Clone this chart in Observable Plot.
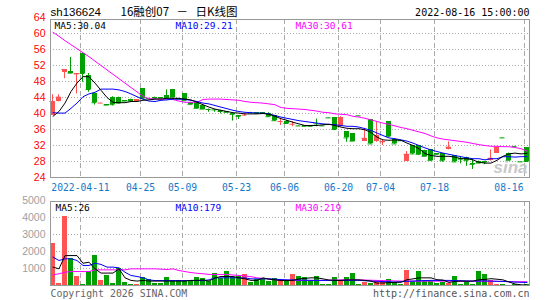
<!DOCTYPE html>
<html><head><meta charset="utf-8">
<script src="https://cdn.jsdelivr.net/npm/d3@7"></script>
<script src="https://cdn.jsdelivr.net/npm/@observablehq/plot@0.6"></script>
<style>
body{margin:0;background:#fff;}
#wrap{position:relative;width:545px;height:300px;overflow:hidden;background:#fff;}
#wrap svg{position:absolute;left:0;}
</style></head><body><div id="wrap"></div>
<script>
// ---- data ----
const opens = [39.5,43.1,50.2,50.4,49.7,55.0,49.6,45.1,42.5,42.2,
 44.1,44.1,43.2,43.6,43.1,46.2,43.8,44.1,43.9,44.5,
 46.0,43.7,45.0,42.7,42.8,42.0,41.1,41.0,40.8,40.4,
 40.0,39.5,39.4,40.3,40.2,40.2,40.0,39.5,37.9,38.1,
 37.2,37.0,36.9,36.9,37.5,37.0,39.0,39.0,36.7,35.5,
 35.0,39.5,33.0,38.5,32.9,32.7,38.0,33.4,33.3,28.0,
 32.0,32.0,30.8,30.9,29.9,29.9,31.0,29.4,28.7,29.1,
 27.5,28.1,27.9,28.2,30.1,34.0,30.1,31.8,28.0,31.5];
const highs = [44.7,44.7,51.0,54.0,49.9,55.2,50.0,45.2,42.6,42.2,
 44.2,44.1,43.2,43.6,43.5,46.2,43.8,44.1,43.9,45.9,
 46.0,43.7,45.0,42.7,42.9,42.0,41.1,41.0,40.8,40.4,
 40.0,39.5,39.9,40.3,40.2,40.2,40.2,39.5,38.8,38.2,
 38.0,37.0,36.9,36.9,38.6,37.0,39.0,39.0,39.2,35.5,
 35.0,39.5,36.3,38.5,37.8,33.4,38.0,33.4,33.3,30.5,
 32.0,32.0,30.8,30.9,29.9,29.9,32.9,29.4,29.2,29.1,
 28.5,28.1,27.9,30.9,31.6,34.0,30.1,31.8,28.0,31.5];
const lows = [39.5,42.9,48.7,49.9,44.9,47.8,45.3,42.1,42.5,42.1,
 41.9,42.4,43.1,43.1,43.1,43.5,43.7,43.7,43.8,43.8,
 43.9,43.6,43.2,42.3,41.2,41.0,40.3,40.3,39.9,40.2,
 38.1,38.5,39.3,40.1,40.0,40.1,39.0,38.0,37.0,37.4,
 36.7,36.9,36.8,36.8,36.7,36.9,38.9,35.9,36.6,32.8,
 33.0,39.4,33.0,32.3,32.8,32.0,34.2,32.3,33.2,28.0,
 29.7,29.5,29.2,28.0,29.8,27.8,30.9,27.8,27.4,26.8,
 26.0,27.6,27.2,28.1,30.0,33.9,28.2,31.7,27.9,28.0];
const closes = [43.0,44.1,51.0,50.1,49.9,50.0,46.0,42.7,42.6,42.1,
 42.2,42.6,43.1,43.1,43.5,43.7,43.7,43.7,43.8,43.8,
 43.9,43.6,43.2,42.3,41.3,41.1,41.0,40.9,40.5,40.3,
 39.8,39.3,39.6,40.2,40.1,40.1,39.2,38.2,38.0,37.5,
 37.3,36.9,36.8,36.8,37.4,36.9,38.9,36.0,39.0,33.9,
 33.1,39.4,33.8,32.4,34.5,32.9,34.3,32.4,33.2,29.8,
 29.9,29.8,29.3,28.3,29.8,28.2,31.6,27.9,28.6,28.3,
 27.3,27.6,27.8,28.8,31.6,33.9,28.3,31.7,27.9,28.0];
const volumes = [2450,140,4080,1600,550,80,820,1760,300,590,
 140,1020,200,60,60,450,350,100,100,450,
 260,290,260,260,450,390,260,720,390,850,
 450,530,650,200,330,330,220,390,290,290,
 650,530,450,255,530,60,60,450,255,450,
 720,60,180,140,220,180,330,200,60,880,
 255,840,255,255,100,160,130,550,60,200,
 60,820,630,270,80,30,20,30,20,30];
const ma5 = [39.3,40.5,42.6,45.5,47.6,49.2,49.2,47.6,45.8,44.0,
 42.8,42.7,42.7,43.0,43.0,43.3,43.4,43.6,43.6,43.8,
 43.8,43.8,43.6,43.4,42.8,42.2,41.6,41.1,40.8,40.5,
 40.2,40.1,39.9,39.9,39.9,40.0,39.8,39.3,38.7,38.3,
 37.8,37.4,37.0,37.0,37.0,37.2,37.3,37.0,36.6,36.3,
 36.2,36.2,35.9,35.3,34.1,33.4,33.3,33.4,33.3,32.6,
 32.0,31.2,30.0,29.5,29.3,29.3,29.3,29.1,28.7,28.7,
 28.4,27.8,27.6,27.6,28.3,29.3,29.9,30.1,29.9,30.04];
const ma10 = [40.2,40.1,40.1,41.3,42.6,44.2,44.9,45.3,46.1,46.1,
 46.1,45.9,45.5,44.9,44.2,43.6,43.1,43.0,43.3,43.4,
 43.6,43.6,43.5,43.3,43.0,42.6,42.4,42.0,41.6,41.2,
 40.8,40.5,40.3,40.2,40.1,40.1,39.9,39.5,39.1,38.8,
 38.5,38.2,38.0,37.8,37.6,37.4,37.3,37.2,37.0,36.8,
 36.8,36.6,36.2,35.8,35.1,34.5,33.9,33.7,33.4,33.1,
 32.6,32.0,31.4,30.9,30.5,30.1,29.8,29.5,29.2,28.9,
 28.7,28.7,28.4,28.7,28.7,29.2,29.2,29.1,29.2,29.21];
const ma30 = [60.3,59.3,58.2,57.2,56.2,55.2,54.2,53.1,52.0,50.9,
 49.8,48.7,47.6,46.5,45.4,44.3,43.7,43.6,43.6,43.6,
 43.5,43.1,42.8,42.8,42.8,43.5,43.6,43.6,43.6,43.5,
 43.4,43.3,43.0,42.8,42.7,42.6,42.4,42.2,41.5,41.3,
 41.2,41.1,41.0,40.8,40.6,40.3,40.2,39.9,39.8,39.7,
 39.3,39.1,38.8,38.4,38.0,37.6,37.3,36.9,36.5,36.2,
 35.8,35.4,35.0,34.4,33.9,33.6,33.4,33.2,33.0,32.8,
 32.5,32.2,32.0,31.8,31.8,31.7,31.7,31.5,31.2,30.61];
const vma5 = [1080,980,1760,1760,1760,1310,1370,980,730,730,
 730,980,450,300,260,300,260,260,260,260,
 260,260,260,300,300,330,260,450,530,530,
 530,450,390,300,300,450,370,330,290,290,
 300,390,420,450,450,390,320,300,300,330,
 330,330,300,260,140,150,170,190,190,340,
 390,450,450,450,340,320,180,240,260,250,
 260,340,360,400,370,330,210,90,40,26];
const vma10 = [1670,1470,1570,1570,1470,1180,1180,1310,1240,1080,
 1080,1040,780,590,530,450,330,290,290,290,
 290,290,290,290,290,290,330,450,450,450,
 450,450,450,390,390,390,390,370,350,330,
 330,320,310,300,300,300,300,300,300,300,
 310,300,280,260,250,230,220,200,220,250,
 260,280,290,300,300,300,300,290,280,270,
 260,270,270,260,250,240,220,200,190,179];
const vma30 = [630,690,780,820,820,820,820,920,920,920,
 920,920,920,980,980,980,980,980,960,940,
 980,880,820,760,720,690,650,650,650,650,
 620,590,560,520,450,420,390,330,320,310,
 300,300,300,300,300,300,310,320,330,330,
 330,330,320,310,300,290,280,270,260,260,
 255,255,255,255,255,255,255,255,250,250,
 250,250,250,250,240,235,230,225,222,219];
const tickIndex = [5,15,22,31,39,48,55,64,79];
const tickLabels = ["2022-04-11","04-25","05-09","05-23","06-06","06-20","07-04","07-18","08-16"];
const priceTicks = [24,28,32,36,40,44,48,52,56,60,64];
const volTicks = [1000,2000,3000,4000,5000];
const code = "sh136624";
const titleParts = ["16融创07", "－", "日K线图"];
const stamp = "2022-08-16 15:00:00";
const maLabels = ["MA5:30.04","MA10:29.21","MA30:30.61"];
const vmaLabels = ["MA5:26","MA10:179","MA30:219"];

// ---- build ----
const RED = "#ff5252", GREEN = "#00a000", GRID = "#aaaaaa", FRAME = "#999999";
const MONO = "DejaVu Sans Mono", SANS = "Liberation Sans", CJK = "Noto Sans CJK SC";
const HALF = 5/12;
const bars = opens.map((o,i)=>({i, open:o, high:highs[i], low:lows[i], close:closes[i], vol:volumes[i], color: closes[i] > o ? RED : GREEN}));
const series = arr => arr.map((v,i)=>({i, v}));
const xDomain = [-HALF, 79 + HALF];
const lastIdx = tickIndex.length - 1;
const midTicks = tickIndex.slice(0, lastIdx).map((t,k)=>({t, label: tickLabels[k]}));
const endTick = [{t: tickIndex[lastIdx], label: tickLabels[lastIdx]}];
const label = (txt, o) => Plot.text([txt], {text: d=>d, textAnchor: "start", lineAnchor: "bottom", ...o});

const main = Plot.plot({
  width: 545, height: 196,
  marginLeft: 50, marginRight: 16, marginTop: 19, marginBottom: 19,
  x: {domain: xDomain, axis: null},
  y: {domain: [24, 63.5], axis: null},
  style: {background: "transparent", fontFamily: SANS, overflow: "visible"},
  marks: [
    Plot.ruleY(priceTicks.slice(1, -1), {y: d=>d, stroke: GRID, strokeDasharray: "1,2"}),
    Plot.ruleX(tickIndex, {x: d=>d, stroke: GRID, strokeDasharray: "5,3", dx: -2.5}),
    Plot.ruleX(bars, {x: "i", y1: "low", y2: "high", stroke: "color", dx: -0.5}),
    Plot.rect(bars, {x1: d=>d.i-HALF, x2: d=>d.i+HALF, y1: "open", y2: "close", fill: "color", shapeRendering: "crispEdges"}),
    Plot.ruleY(bars, {x1: d=>d.i-HALF, x2: d=>d.i+HALF, y: "close", stroke: "color", dx: -0.5}),
    Plot.text(["sina"], {text: d=>d, frameAnchor: "bottom-right", textAnchor: "end", lineAnchor: "bottom", dx: -2, dy: -5, fill: "#c8c8c8", fontSize: 17, fontWeight: "bold", fontStyle: "italic", fontFamily: SANS}),
    Plot.line(series(ma30), {x: "i", y: "v", stroke: "#ff00ff", strokeWidth: 1}),
    Plot.line(series(ma10), {x: "i", y: "v", stroke: "#0000ff", strokeWidth: 1}),
    Plot.line(series(ma5), {x: "i", y: "v", stroke: "#000000", strokeWidth: 1}),
    Plot.frame({stroke: FRAME}),
    Plot.text(priceTicks, {y: d=>d, text: d=>String(d), frameAnchor: "left", textAnchor: "end", dx: -5, fill: "#ff0000", fontSize: 10.5, fontFamily: SANS}),
    Plot.text(midTicks, {x: "t", text: "label", frameAnchor: "bottom", lineAnchor: "bottom", dx: -2.5, dy: 13, fill: "#1478c8", fontSize: 9.7, fontFamily: MONO}),
    Plot.text(endTick, {x: "t", text: "label", frameAnchor: "bottom", textAnchor: "end", lineAnchor: "bottom", dx: -3.5, dy: 13, fill: "#1478c8", fontSize: 9.7, fontFamily: MONO}),
    label(maLabels[0], {frameAnchor: "top-left", dx: 4, dy: 9, fill: "#000", fontSize: 9.5, fontFamily: MONO}),
    label(maLabels[1], {frameAnchor: "top-left", dx: 125, dy: 9, fill: "#0000ff", fontSize: 9.5, fontFamily: MONO}),
    label(maLabels[2], {frameAnchor: "top-left", dx: 245, dy: 9, fill: "#ff00ff", fontSize: 9.5, fontFamily: MONO}),
    label(code, {frameAnchor: "top-left", dy: -4, fill: "#000", fontSize: 11.5, fontFamily: SANS}),
    label(titleParts[0], {frameAnchor: "top-left", dx: 70, dy: -4, fill: "#000", fontSize: 11.5, fontFamily: CJK}),
    label(titleParts[1], {frameAnchor: "top-left", dx: 126, dy: -4, fill: "#000", fontSize: 11.5, fontFamily: CJK}),
    label(titleParts[2], {frameAnchor: "top-left", dx: 145, dy: -4, fill: "#000", fontSize: 11.5, fontFamily: CJK}),
    Plot.text([stamp], {text: d=>d, frameAnchor: "top-right", textAnchor: "end", lineAnchor: "bottom", dy: -4, fill: "#000", fontSize: 10, fontFamily: MONO})
  ]
});
main.style.top = "0px";

const vol = Plot.plot({
  width: 545, height: 104,
  marginLeft: 50, marginRight: 16, marginTop: 5, marginBottom: 15,
  x: {domain: xDomain, axis: null},
  y: {domain: [0, 4941], axis: null},
  style: {background: "transparent", fontFamily: SANS, overflow: "visible"},
  marks: [
    Plot.ruleY(volTicks.slice(0, -1), {y: d=>d, stroke: GRID, strokeDasharray: "1,2"}),
    Plot.ruleX(tickIndex, {x: d=>d, stroke: GRID, strokeDasharray: "5,3", dx: -2.5}),
    Plot.rect(bars, {x1: d=>d.i-HALF, x2: d=>d.i+HALF, y1: 0, y2: "vol", fill: "color", shapeRendering: "crispEdges"}),
    Plot.line(series(vma30), {x: "i", y: "v", stroke: "#ff00ff", strokeWidth: 1}),
    Plot.line(series(vma10), {x: "i", y: "v", stroke: "#0000ff", strokeWidth: 1}),
    Plot.line(series(vma5), {x: "i", y: "v", stroke: "#000000", strokeWidth: 1}),
    Plot.frame({stroke: FRAME}),
    Plot.text(volTicks, {y: d=>d, text: d=>String(d), frameAnchor: "left", textAnchor: "end", dx: -5, fill: "#a0a0a0", fontSize: 10.5, fontFamily: SANS}),
    label(vmaLabels[0], {frameAnchor: "top-left", dx: 5, dy: 9, fill: "#000", fontSize: 9.5, fontFamily: MONO}),
    label(vmaLabels[1], {frameAnchor: "top-left", dx: 125, dy: 9, fill: "#0000ff", fontSize: 9.5, fontFamily: MONO}),
    label(vmaLabels[2], {frameAnchor: "top-left", dx: 245, dy: 9, fill: "#ff00ff", fontSize: 9.5, fontFamily: MONO}),
    label("Copyright 2026 SINA.COM", {frameAnchor: "bottom-left", dy: 11, fill: "#666", fontSize: 9.9, fontFamily: MONO}),
    Plot.text(["http://finance.sina.com.cn"], {text: d=>d, frameAnchor: "bottom-right", textAnchor: "end", lineAnchor: "bottom", dy: 11, fill: "#555", fontSize: 10, fontFamily: MONO})
  ]
});
vol.style.top = "196px";

const wrap = document.getElementById("wrap");
wrap.appendChild(main);
wrap.appendChild(vol);
</script>
</body></html>
